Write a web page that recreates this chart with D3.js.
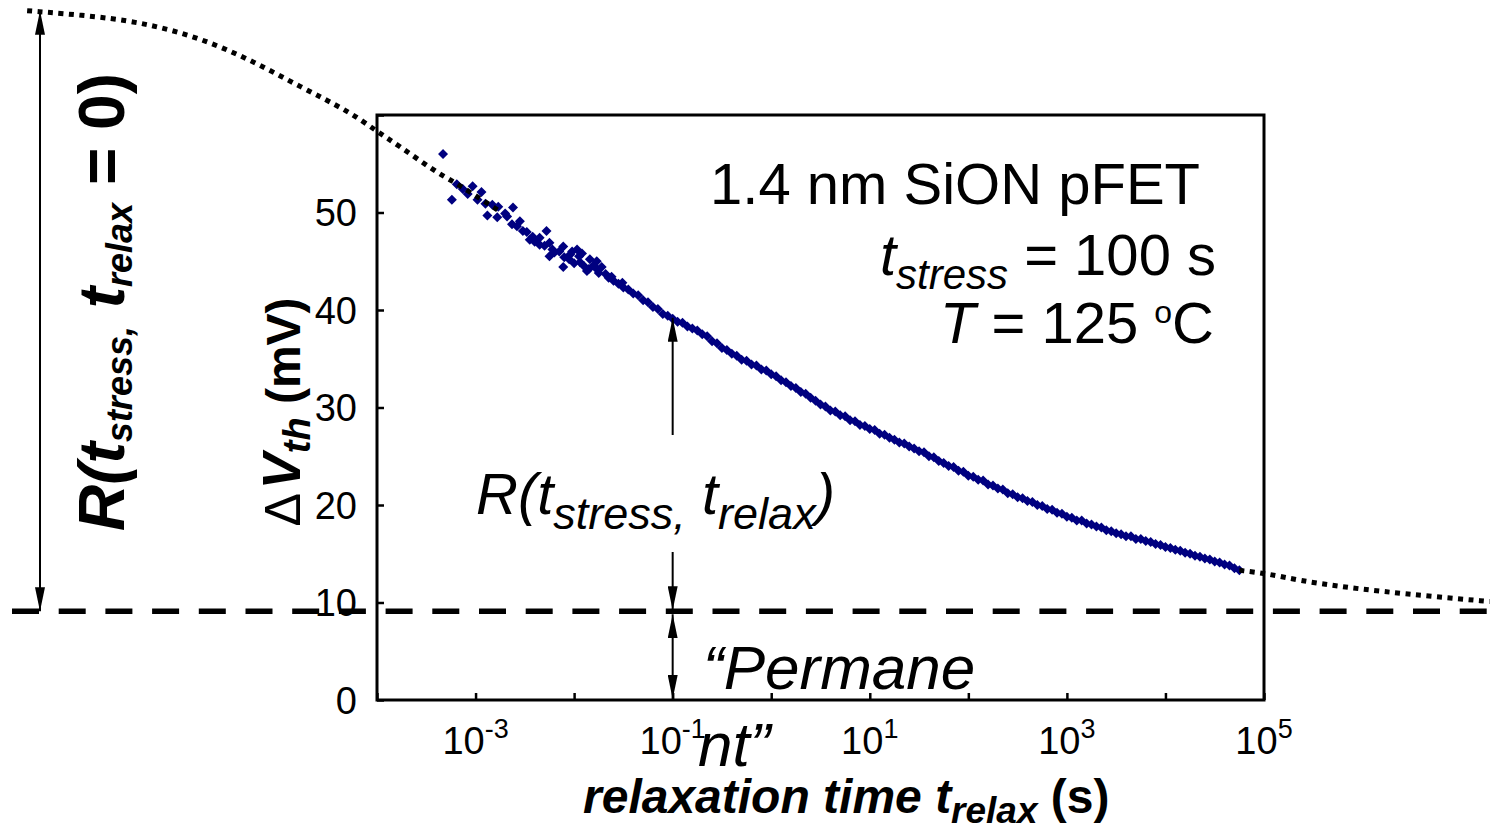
<!DOCTYPE html>
<html>
<head>
<meta charset="utf-8">
<script src="https://cdn.jsdelivr.net/npm/d3@7"></script>
<style>
body { margin: 0; background: #fff; }
svg { display: block; font-family: "Liberation Sans", Arial, sans-serif; }
</style>
</head>
<body>
<svg id="chart" width="1494" height="830"></svg>
<script>
var WIDTH = 1494;
var HEIGHT = 830;
var LEFT = 377, RIGHT = 1264, TOP = 115, BOTTOM = 700;

// relaxation data: [log10(t_relax / s), dVth (mV)]
// scattered early part of the measurement
var scatterPoints = [
	[-3.33,56.0],[-3.24,51.3],[-3.19,52.9],[-3.13,52.4],[-3.08,51.9],[-3.03,52.7],
	[-2.98,51.3],[-2.94,52.1],[-2.90,50.9],[-2.88,49.7],[-2.83,50.8],[-2.78,49.5],
	[-2.77,50.6],[-2.70,49.9],[-2.68,49.6],[-2.63,48.8],[-2.62,50.5],[-2.58,48.6],
	[-2.55,49.1],[-2.52,48.1],[-2.48,48.0],[-2.45,47.2],[-2.42,47.5],[-2.40,47.0],
	[-2.35,46.7],[-2.35,47.4],[-2.30,46.6],[-2.28,48.1],[-2.25,45.5],[-2.25,46.9],
	[-2.22,46.2],[-2.20,45.9],[-2.15,46.0],[-2.11,46.5],[-2.11,44.4],[-2.10,45.4],
	[-2.05,45.2],[-2.04,45.7],[-2.02,46.0],[-2.00,44.8],[-1.97,46.2],[-1.95,45.5],
	[-1.94,44.9],[-1.92,45.8],[-1.90,44.5],[-1.87,44.0],[-1.85,44.2],[-1.84,45.2],
	[-1.80,44.6],[-1.77,45.0],[-1.77,44.2],[-1.75,43.8],[-1.72,44.4],[-1.68,43.7],
	[-1.65,43.3],[-1.62,43.4],[-1.51,42.8]
];
// dense later part of the measurement
var bandPoints = [
	[-1.60,43.0],[-1.55,42.7],[-1.50,42.3],[-1.45,42.1],[-1.40,41.7],[-1.35,41.5],
	[-1.30,41.0],[-1.25,40.8],[-1.20,40.3],[-1.15,40.1],[-1.10,39.6],[-1.05,39.4],
	[-1.00,39.1],[-0.95,38.8],[-0.90,38.7],[-0.85,38.3],[-0.80,38.1],[-0.75,37.9],
	[-0.70,37.5],[-0.65,37.3],[-0.60,36.8],[-0.55,36.6],[-0.50,36.1],[-0.45,35.9],
	[-0.40,35.5],[-0.35,35.3],[-0.30,34.9],[-0.25,34.8],[-0.20,34.4],[-0.15,34.3],
	[-0.10,33.9],[-0.05,33.8],[0.00,33.4],[0.05,33.2],[0.10,32.8],[0.15,32.6],
	[0.20,32.2],[0.25,32.0],[0.30,31.6],[0.35,31.4],[0.40,31.0],[0.45,30.7],
	[0.50,30.3],[0.55,30.1],[0.60,29.7],[0.65,29.6],[0.70,29.2],[0.75,29.1],
	[0.80,28.7],[0.85,28.6],[0.90,28.2],[0.95,28.1],[1.00,27.8],[1.05,27.7],
	[1.10,27.3],[1.15,27.2],[1.20,26.9],[1.25,26.7],[1.30,26.4],[1.35,26.3],
	[1.40,26.0],[1.45,25.8],[1.50,25.5],[1.55,25.4],[1.60,25.0],[1.65,24.9],
	[1.70,24.5],[1.75,24.3],[1.80,24.0],[1.85,23.9],[1.90,23.5],[1.95,23.4],
	[2.00,23.0],[2.05,22.9],[2.10,22.6],[2.15,22.5],[2.20,22.1],[2.25,22.0],
	[2.30,21.7],[2.35,21.6],[2.40,21.2],[2.45,21.1],[2.50,20.8],[2.55,20.7],
	[2.60,20.4],[2.65,20.3],[2.70,20.0],[2.75,19.9],[2.80,19.6],[2.85,19.5],
	[2.90,19.2],[2.95,19.1],[3.00,18.8],[3.05,18.7],[3.10,18.4],[3.15,18.4],
	[3.20,18.1],[3.25,18.0],[3.30,17.8],[3.35,17.7],[3.40,17.4],[3.45,17.3],
	[3.50,17.1],[3.55,17.0],[3.60,16.8],[3.65,16.8],[3.70,16.5],[3.75,16.5],
	[3.80,16.3],[3.85,16.2],[3.90,16.0],[3.95,15.9],[4.00,15.7],[4.05,15.6],
	[4.10,15.4],[4.15,15.3],[4.20,15.1],[4.25,15.0],[4.30,14.8],[4.35,14.7],
	[4.40,14.5],[4.45,14.4],[4.50,14.2],[4.55,14.1],[4.60,13.9],[4.65,13.8],
	[4.70,13.5],[4.75,13.3]
];
// dotted extrapolation of the relaxation curve (beyond the measured window)
var tailLeft = [
	[-7.55,70.7],[-6.81,70.1],[-6.30,69.3],[-5.80,67.9],[-5.29,65.7],[-4.78,62.9],
	[-4.27,60.3],[-4.00,58.3],[-3.77,56.8],[-3.41,54.2],[-3.23,53.2],[-3.06,52.1],[-2.75,50.1]
];
var tailRight = [
	[4.75,13.3],[5.03,12.97],[5.36,12.26],[5.77,11.64],[6.20,11.13],[6.71,10.62],[7.29,10.10]
];

var xTickExps = [-4, -3, -2, -1, 0, 1, 2, 3, 4, 5];
var xLabelExps = [-3, -1, 1, 3, 5];
var yTicks = [0, 10, 20, 30, 40, 50, 60];
var yLabels = [0, 10, 20, 30, 40, 50];

var permanentLevel = 9.1;   // "permanent" component (mV)
var initialLevel = 70.7;    // R(t_stress, t_relax = 0) top
var arrowTime = 0.1;        // t_relax where the arrows sit

var svg = d3.select("#chart");

var x = d3.scaleLog()
	.domain([1e-4, 1e5])
	.range([LEFT, RIGHT]);

var y = d3.scaleLinear()
	.domain([0, 60])
	.range([BOTTOM, TOP]);

var defs = svg.append("defs");
defs.append("marker")
	.attr("id", "head")
	.attr("markerUnits", "userSpaceOnUse")
	.attr("viewBox", "0 -5 24 10")
	.attr("refX", 24)
	.attr("refY", 0)
	.attr("markerWidth", 24)
	.attr("markerHeight", 10)
	.attr("orient", "auto-start-reverse")
	.append("path")
	.attr("d", "M0,-5L24,0L0,5Z")
	.attr("fill", "#000");

/**
 * plot frame and axes
 */
svg.append("rect")
	.attr("x", LEFT)
	.attr("y", TOP)
	.attr("width", RIGHT - LEFT)
	.attr("height", BOTTOM - TOP)
	.attr("fill", "none")
	.attr("stroke", "#000")
	.attr("stroke-width", 3);

var xAxis = svg.append("g")
	.attr("transform", "translate(0," + BOTTOM + ")")
	.call(d3.axisBottom(x)
		.tickValues(xTickExps.map(function(e){return Math.pow(10, e);}))
		.tickSize(-7)
		.tickFormat(""));
xAxis.select(".domain").remove();
xAxis.selectAll(".tick line").attr("stroke-width", 2.5);

var xLab = svg.append("g")
	.selectAll("text")
	.data(xLabelExps)
	.enter()
	.append("text")
	.attr("x", function(d){return x(Math.pow(10, d));})
	.attr("y", 754)
	.attr("text-anchor", "middle")
	.attr("font-size", 38)
	.attr("fill", "#000");
xLab.append("tspan").text("10");
xLab.append("tspan")
	.attr("dy", -16)
	.attr("font-size", 27)
	.text(function(d){return d;});

var yAxis = svg.append("g")
	.attr("transform", "translate(" + LEFT + ",0)")
	.call(d3.axisLeft(y)
		.tickValues(yTicks)
		.tickSize(-7)
		.tickFormat(""));
yAxis.select(".domain").remove();
yAxis.selectAll(".tick line").attr("stroke-width", 2.5);

svg.append("g")
	.selectAll("text")
	.data(yLabels)
	.enter()
	.append("text")
	.attr("x", 357)
	.attr("y", function(d){return y(d);})
	.attr("dy", "0.36em")
	.attr("text-anchor", "end")
	.attr("font-size", 38)
	.attr("fill", "#000")
	.text(function(d){return d;});

/**
 * data points
 */
var diamond = d3.symbol().type(d3.symbolSquare).size(50);
svg.append("g")
	.selectAll("path")
	.data(scatterPoints.concat(bandPoints))
	.enter()
	.append("path")
	.attr("d", diamond)
	.attr("transform", function(d){
		return "translate(" + x(Math.pow(10, d[0])) + "," + y(d[1]) + ") rotate(45)";
	})
	.attr("fill", "#000080");

/**
 * dotted extrapolation and dashed permanent level
 */
var line = d3.line()
	.x(function(d){return x(Math.pow(10, d[0]));})
	.y(function(d){return y(d[1]);})
	.curve(d3.curveBasis);

[tailLeft, tailRight].forEach(function(t){
	svg.append("path")
		.datum(t)
		.attr("d", line)
		.attr("fill", "none")
		.attr("stroke", "#000")
		.attr("stroke-width", 5)
		.attr("stroke-dasharray", "5,5.5");
});

svg.append("line")
	.attr("x1", 12)
	.attr("x2", WIDTH)
	.attr("y1", y(permanentLevel))
	.attr("y2", y(permanentLevel))
	.attr("stroke", "#000")
	.attr("stroke-width", 5.5)
	.attr("stroke-dasharray", "27,19.7");

/**
 * arrows
 */
function arrow(x0, y0, y1, both)
{
	var l = svg.append("line")
		.attr("x1", x0).attr("x2", x0)
		.attr("y1", y0).attr("y2", y1)
		.attr("stroke", "#000")
		.attr("stroke-width", 2)
		.attr("marker-end", "url(#head)");
	if (both) l.attr("marker-start", "url(#head)");
}
var ax = x(arrowTime);
arrow(40, y(permanentLevel), y(initialLevel), true);
arrow(ax, 435, y(39.2), false);
arrow(ax, 552, y(permanentLevel) - 1, false);
arrow(ax, y(permanentLevel) + 3, y(0) - 1, true);

/**
 * annotations
 */
svg.append("text")
	.attr("x", 1200).attr("y", 204)
	.attr("text-anchor", "end")
	.attr("font-size", 58)
	.text("1.4 nm SiON pFET");

var t2 = svg.append("text")
	.attr("x", 1216).attr("y", 275)
	.attr("text-anchor", "end")
	.attr("font-size", 58);
t2.append("tspan").attr("font-style", "italic").text("t");
t2.append("tspan").attr("font-style", "italic").attr("font-size", 42).attr("dy", 14).text("stress");
t2.append("tspan").attr("dy", -14).text(" = 100 s");

var t3 = svg.append("text")
	.attr("x", 1214).attr("y", 343)
	.attr("text-anchor", "end")
	.attr("font-size", 58);
t3.append("tspan").attr("font-style", "italic").text("T");
t3.append("tspan").text(" = 125 ");
t3.append("tspan").attr("font-size", 32).attr("dy", -20).text("o");
t3.append("tspan").attr("dy", 20).text("C");

var r1 = svg.append("text")
	.attr("x", 476).attr("y", 514)
	.attr("font-size", 58)
	.attr("font-style", "italic");
r1.append("tspan").text("R(t");
r1.append("tspan").attr("font-size", 45).attr("dy", 15).text("stress");
r1.append("tspan").attr("font-size", 45).text(",");
r1.append("tspan").attr("dy", -15).text(" t");
r1.append("tspan").attr("font-size", 45).attr("dy", 15).text("relax");
r1.append("tspan").attr("dy", -15).text(")");

svg.append("text")
	.attr("x", 703).attr("y", 689)
	.attr("font-size", 62)
	.attr("font-style", "italic")
	.text("\u201CPermane");
svg.append("text")
	.attr("x", 698).attr("y", 766)
	.attr("font-size", 62)
	.attr("font-style", "italic")
	.text("nt\u201D");

// x axis title
var xt = svg.append("text")
	.attr("x", 583).attr("y", 813)
	.attr("font-size", 48)
	.attr("font-weight", "bold");
xt.append("tspan").attr("font-style", "italic").text("relaxation time t");
xt.append("tspan").attr("font-style", "italic").attr("font-size", 37).attr("dy", 10).text("relax");
xt.append("tspan").attr("dy", -10).text(" (s)");

// y axis title
var yt = svg.append("text")
	.attr("transform", "translate(300,412) rotate(-90)")
	.attr("text-anchor", "middle")
	.attr("font-size", 48)
	.attr("font-weight", "bold");
yt.append("tspan").attr("font-weight", "normal").attr("font-size", 50).text("\u0394");
yt.append("tspan").attr("font-size", 14).text(" ");
yt.append("tspan").attr("font-style", "italic").attr("font-size", 54).text("V");
yt.append("tspan").attr("font-style", "italic").attr("font-size", 38).attr("dy", 10).text("th");
yt.append("tspan").attr("dy", -10).text(" (mV)");

// left label
var lt = svg.append("text")
	.attr("transform", "translate(124,302) rotate(-90)")
	.attr("text-anchor", "middle")
	.attr("font-size", 64)
	.attr("font-weight", "bold")
	.attr("font-style", "italic");
lt.append("tspan").text("R(t");
lt.append("tspan").attr("font-size", 36).attr("dy", 8).text("stress");
lt.append("tspan").attr("font-size", 36).text(",");
lt.append("tspan").attr("dy", -8).text(" t");
lt.append("tspan").attr("font-size", 36).attr("dy", 8).text("relax");
lt.append("tspan").attr("dy", -8).attr("font-style", "normal").text(" = 0)");
</script>
</body>
</html>
